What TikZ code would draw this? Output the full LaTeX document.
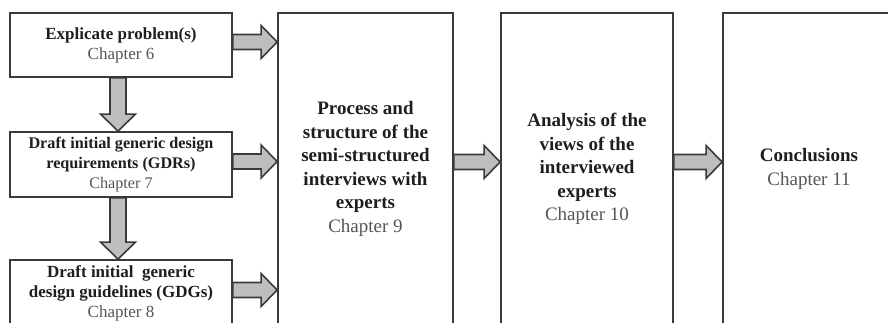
\documentclass[tikz,border=0pt]{standalone}
\usepackage{fontspec}
\setmainfont{Liberation Serif}
\usetikzlibrary{calc}

\definecolor{edge}{HTML}{3A3A3A}
\definecolor{arrowfill}{HTML}{BEBEBE}
\definecolor{titletext}{HTML}{1E1E1E}
\definecolor{chaptext}{HTML}{555555}

\tikzset{
  box/.style={draw=edge, line width=1.8pt, fill=white, align=center, inner sep=0pt},
  smallbox/.style={box, minimum width=222pt, minimum height=64pt,
    font=\fontsize{17}{20}\selectfont},
  bigbox/.style={box, minimum height=312pt,
    font=\fontsize{19}{23.5}\selectfont},
  fatarrow/.style={draw=edge, line width=1.6pt, fill=arrowfill, line join=miter},
}

\newcommand\hd[1]{{\bfseries\color{titletext}#1}}
\newcommand\ch[1]{{\color{chaptext}#1}}

% block arrow pointing right, drawn at the height of the start anchor
\newcommand\fatright[2]{%
  \draw[fatarrow] let \p1=(#1), \p2=(#2) in
    (\x1,\y1-7.5pt) -- (\x2-16pt,\y1-7.5pt) -- (\x2-16pt,\y1-16.5pt) -- (\x2,\y1)
    -- (\x2-16pt,\y1+16.5pt) -- (\x2-16pt,\y1+7.5pt) -- (\x1,\y1+7.5pt) -- cycle;}
% block arrow pointing down, drawn at the x of the start anchor
\newcommand\fatdown[2]{%
  \draw[fatarrow] let \p1=(#1), \p2=(#2) in
    (\x1-8pt,\y1) -- (\x1-8pt,\y2+17pt) -- (\x1-17.5pt,\y2+17pt) -- (\x1,\y2)
    -- (\x1+17.5pt,\y2+17pt) -- (\x1+8pt,\y2+17pt) -- (\x1+8pt,\y1) -- cycle;}

\begin{document}
\begin{tikzpicture}[x=1pt,y=-1pt]
  \useasboundingbox (0,0) rectangle (888,323);
  \clip (0,0) rectangle (888,323);

  % left column
  \node[smallbox] (gap) at (121,45) {\hd{Explicate problem(s)}\\ \ch{Chapter 6}};
  \node[smallbox, minimum height=65pt, font=\fontsize{16.2}{20}\selectfont] (gdr) at (121,164.5)
    {\hd{Draft initial generic design}\\ \hd{requirements (GDRs)}\\ \ch{Chapter 7}};
  \node[smallbox, minimum height=66pt] (gdg) at (121,293)
    {\hd{Draft initial\ \ generic}\\ \hd{design guidelines (GDGs)}\\ \ch{Chapter 8}};

  % tall boxes
  \node[bigbox, minimum width=175pt] (proc) at (365.5,169)
    {\hd{Process and}\\ \hd{structure of the}\\ \hd{semi-structured}\\
     \hd{interviews with}\\ \hd{experts}\\ \ch{Chapter 9}};
  \node[bigbox, minimum width=172pt] (ana) at (587,169)
    {\hd{Analysis of the}\\ \hd{views of the}\\ \hd{interviewed}\\ \hd{experts}\\ \ch{Chapter 10}};
  \node[bigbox, minimum width=172pt] (conc) at (809,169)
    {\hd{Conclusions}\\ \ch{Chapter 11}};

  % connectors
  \fatdown{[xshift=-3pt]gap.south}{[xshift=-3pt]gdr.north}
  \fatdown{[xshift=-3pt]gdr.south}{[xshift=-3pt]gdg.north}
  \fatright{[yshift=3pt]gap.east}{proc.west}
  \fatright{[yshift=3pt]gdr.east}{proc.west}
  \fatright{[yshift=3pt]gdg.east}{proc.west}
  \fatright{[yshift=7pt]proc.east}{ana.west}
  \fatright{[yshift=7pt]ana.east}{conc.west}
\end{tikzpicture}
\end{document}
